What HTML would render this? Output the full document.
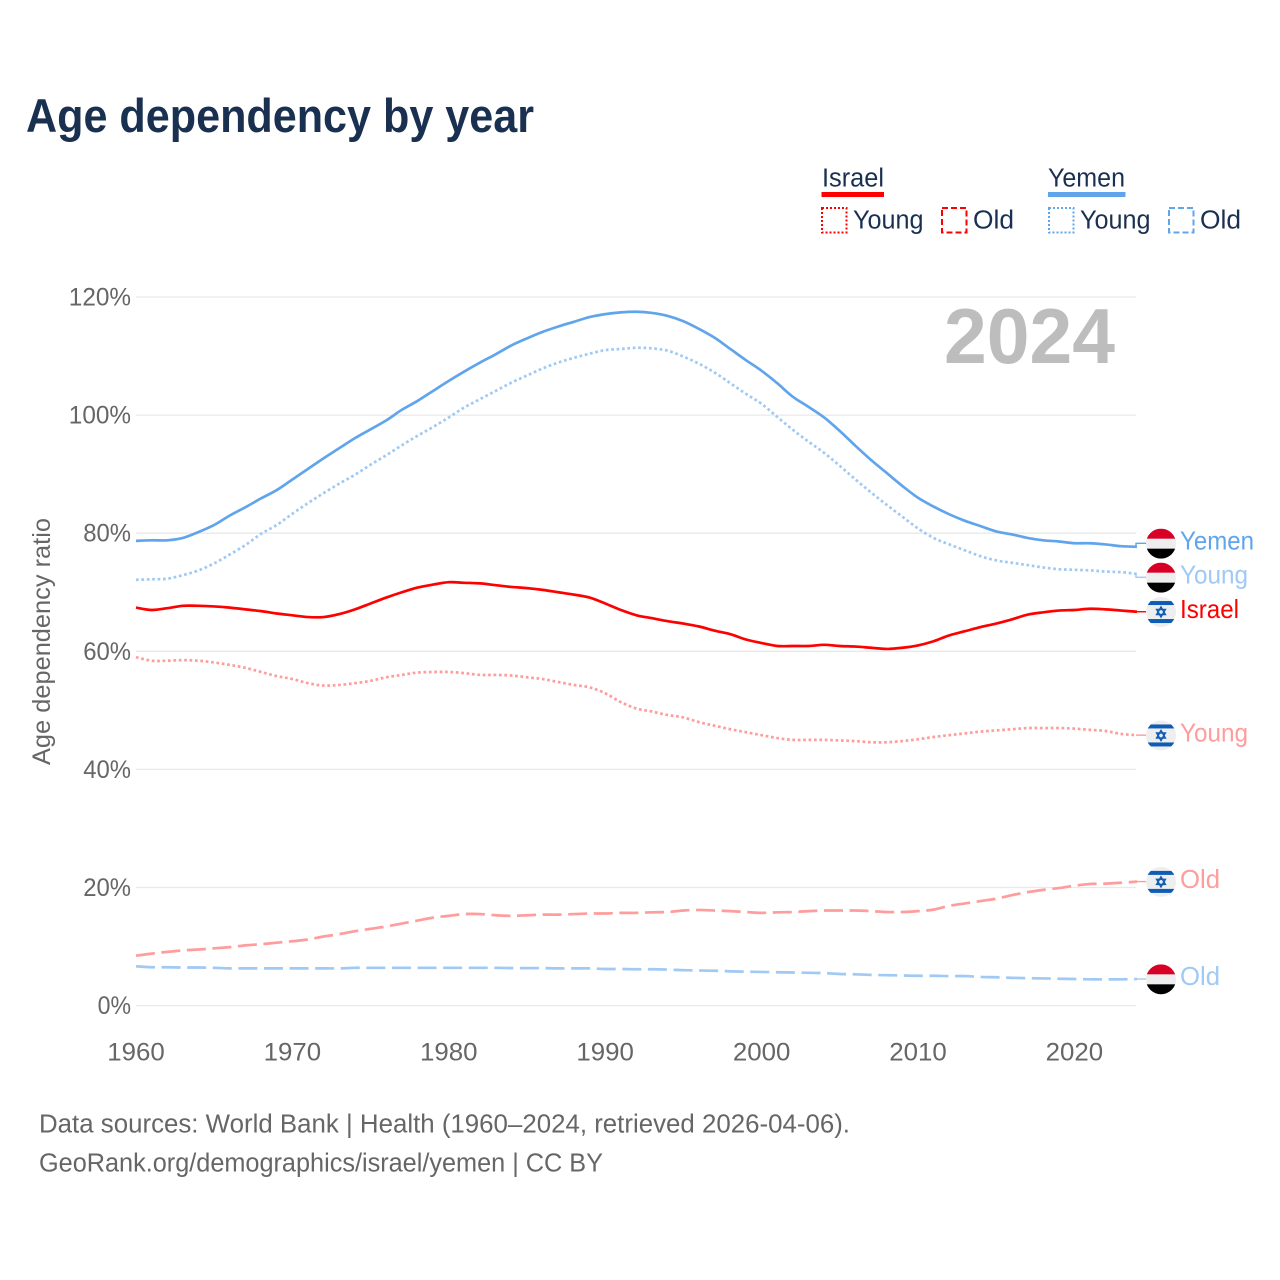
<!DOCTYPE html>
<html lang="en">
<head>
<meta charset="utf-8">
<title>Age dependency by year</title>
<style>
html,body{margin:0;padding:0;background:#fff;}
svg{display:block;font-family:"Liberation Sans",sans-serif;}
</style>
</head>
<body>
<svg id="chart" xmlns="http://www.w3.org/2000/svg" width="1280" height="1280" viewBox="0 0 1280 1280">
  <rect x="0" y="0" width="1280" height="1280" fill="#ffffff"/>
  <text x="26" y="132" font-size="47" font-weight="700" fill="#1a3050" textLength="508" lengthAdjust="spacingAndGlyphs">Age dependency by year</text>

  <g>
    <text x="822" y="186.5" font-size="25.5" fill="#1a3050" textLength="62" lengthAdjust="spacingAndGlyphs">Israel</text>
    <rect x="821.5" y="192" width="62.5" height="5" fill="#ff0000"/>
    <rect x="822" y="208" width="24.5" height="24.5" fill="none" stroke="#ff0000" stroke-width="2" stroke-dasharray="2 2"/>
    <text x="853" y="228.5" font-size="25.5" fill="#1a3050" textLength="70.5" lengthAdjust="spacingAndGlyphs">Young</text>
    <rect x="942" y="208" width="24.5" height="24.5" fill="none" stroke="#ff0000" stroke-width="2" stroke-dasharray="6 3"/>
    <text x="973" y="228.5" font-size="25.5" fill="#1a3050" textLength="41" lengthAdjust="spacingAndGlyphs">Old</text>
    <text x="1048" y="186.5" font-size="25.5" fill="#1a3050" textLength="77" lengthAdjust="spacingAndGlyphs">Yemen</text>
    <rect x="1048" y="192" width="77.5" height="5" fill="#60a5ec"/>
    <rect x="1049" y="208" width="24.5" height="24.5" fill="none" stroke="#60a5ec" stroke-width="2" stroke-dasharray="2 2"/>
    <text x="1080" y="228.5" font-size="25.5" fill="#1a3050" textLength="70.5" lengthAdjust="spacingAndGlyphs">Young</text>
    <rect x="1169" y="208" width="24.5" height="24.5" fill="none" stroke="#60a5ec" stroke-width="2" stroke-dasharray="6 3"/>
    <text x="1200" y="228.5" font-size="25.5" fill="#1a3050" textLength="41" lengthAdjust="spacingAndGlyphs">Old</text>
  </g>

  <g id="grid"></g>
  <g id="yticks"></g>
  <g id="xticks"></g>

  <text transform="translate(50,641.5) rotate(-90)" text-anchor="middle" font-size="25" fill="#666666" textLength="247" lengthAdjust="spacingAndGlyphs">Age dependency ratio</text>
  <text x="944" y="363" font-size="78" font-weight="700" fill="#bdbdbd" textLength="171" lengthAdjust="spacingAndGlyphs">2024</text>

  <g id="lines"></g>
  <g id="ends"></g>

  <text x="39" y="1132.5" font-size="25.5" fill="#666666" textLength="811" lengthAdjust="spacingAndGlyphs">Data sources: World Bank | Health (1960–2024, retrieved 2026-04-06).</text>
  <text x="39" y="1171.5" font-size="25.5" fill="#666666" textLength="564" lengthAdjust="spacingAndGlyphs">GeoRank.org/demographics/israel/yemen | CC BY</text>
</svg>

<script>
const years = [1960,1961,1962,1963,1964,1965,1966,1967,1968,1969,1970,1971,1972,1973,1974,1975,1976,1977,1978,1979,1980,1981,1982,1983,1984,1985,1986,1987,1988,1989,1990,1991,1992,1993,1994,1995,1996,1997,1998,1999,2000,2001,2002,2003,2004,2005,2006,2007,2008,2009,2010,2011,2012,2013,2014,2015,2016,2017,2018,2019,2020,2021,2022,2023,2024];
const yTicks = [0,20,40,60,80,100,120];
const xTicks = [1960,1970,1980,1990,2000,2010,2020];

const yemenTotal = [78.7,78.8,78.8,79.2,80.2,81.4,83.0,84.4,85.9,87.3,
  89.1,90.9,92.7,94.4,96.1,97.6,99.1,100.9,102.4,104.1,
  105.8,107.4,108.9,110.3,111.8,113.0,114.1,115.0,115.8,116.6,
  117.1,117.4,117.5,117.3,116.8,115.9,114.6,113.1,111.2,109.3,
  107.5,105.4,103.1,101.4,99.6,97.3,94.8,92.4,90.2,88.0,
  86.0,84.5,83.2,82.1,81.2,80.3,79.8,79.2,78.8,78.6,
  78.3,78.3,78.1,77.8,77.7];
const yemenYoung = [72.1,72.2,72.3,72.9,73.7,74.9,76.4,78.0,79.9,81.4,
  83.3,85.1,86.8,88.4,89.9,91.6,93.2,94.9,96.5,98.0,
  99.6,101.3,102.7,104.1,105.5,106.7,107.9,108.9,109.7,110.4,
  111.0,111.2,111.4,111.3,110.9,109.9,108.7,107.2,105.4,103.6,
  101.9,99.7,97.5,95.5,93.6,91.4,89.1,86.9,84.8,82.8,
  80.8,79.2,78.1,77.1,76.1,75.4,75.0,74.6,74.2,73.9,
  73.8,73.7,73.5,73.4,73.1];
const yemenOld = [6.65,6.5,6.5,6.45,6.45,6.4,6.3,6.3,6.3,6.3,
  6.3,6.3,6.3,6.3,6.4,6.4,6.4,6.4,6.4,6.4,
  6.4,6.4,6.4,6.4,6.35,6.35,6.35,6.3,6.3,6.3,
  6.2,6.2,6.15,6.15,6.1,6.0,5.95,5.9,5.8,5.75,
  5.7,5.65,5.6,5.55,5.5,5.35,5.3,5.2,5.15,5.1,
  5.05,5.05,5.0,5.0,4.85,4.8,4.7,4.65,4.6,4.55,
  4.5,4.45,4.45,4.45,4.5];
const israelTotal = [67.4,67.0,67.3,67.7,67.7,67.6,67.4,67.1,66.8,66.4,
  66.1,65.8,65.8,66.3,67.1,68.1,69.1,70.0,70.8,71.3,
  71.7,71.6,71.5,71.2,70.9,70.7,70.4,70.0,69.6,69.1,
  68.1,67.0,66.1,65.6,65.1,64.7,64.2,63.5,62.9,62.0,
  61.4,60.9,60.9,60.9,61.1,60.9,60.8,60.6,60.4,60.6,
  61.0,61.7,62.7,63.4,64.1,64.7,65.4,66.2,66.6,66.9,
  67.0,67.2,67.1,66.9,66.7];
const israelYoung = [59.0,58.4,58.4,58.5,58.4,58.1,57.7,57.2,56.5,55.8,
  55.3,54.6,54.2,54.3,54.6,55.0,55.6,56.0,56.4,56.5,
  56.5,56.3,56.0,56.0,55.9,55.6,55.3,54.8,54.3,53.9,
  52.9,51.4,50.3,49.8,49.2,48.8,48.0,47.4,46.8,46.3,
  45.8,45.3,45.0,45.0,45.0,44.9,44.8,44.6,44.6,44.8,
  45.1,45.5,45.8,46.1,46.4,46.6,46.8,47.0,47.0,47.0,
  46.9,46.7,46.5,46.0,45.8];
const israelOld = [8.45,8.8,9.1,9.35,9.5,9.7,9.9,10.2,10.4,10.65,
  10.9,11.2,11.7,12.1,12.6,13.0,13.4,13.9,14.4,14.9,
  15.2,15.5,15.5,15.3,15.2,15.3,15.4,15.4,15.5,15.6,
  15.6,15.7,15.7,15.8,15.85,16.1,16.2,16.1,16.0,15.85,
  15.7,15.8,15.85,16.0,16.1,16.1,16.1,16.0,15.85,15.85,
  16.0,16.25,16.9,17.3,17.7,18.1,18.7,19.2,19.6,19.9,
  20.3,20.6,20.65,20.8,21.0];

const NS = 'http://www.w3.org/2000/svg';
function make(tag, attrs, parent) {
  const el = document.createElementNS(NS, tag);
  for (const k in attrs) el.setAttribute(k, attrs[k]);
  parent.appendChild(el);
  return el;
}
function xScale(year) { return 136 + (year - years[0]) * 15.64; }
function yScale(v) { return 1005.6 - v * 5.905; }

const gridG = document.getElementById('grid');
const yTickG = document.getElementById('yticks');
const xTickG = document.getElementById('xticks');
const linesG = document.getElementById('lines');
const endsG = document.getElementById('ends');

yTicks.forEach(function (t) {
  const line = make('line', {x1: 136, x2: 1136, y1: yScale(t), y2: yScale(t), stroke: '#e9e9e9', 'stroke-width': 1.3}, gridG);
  
  
  const label = make('text', {x: 131, y: yScale(t) + 8.5, 'text-anchor': 'end', 'font-size': 25, fill: '#666666', textLength: String(t).length * 14.4 + 19, lengthAdjust: 'spacingAndGlyphs'}, yTickG);
  label.textContent = t + '%';
  
  
});

xTicks.forEach(function (t) {
  const label = make('text', {x: xScale(t), y: 1060.5, 'text-anchor': 'middle', 'font-size': 25, fill: '#666666', textLength: 57.5, lengthAdjust: 'spacingAndGlyphs'}, xTickG);
  label.textContent = String(t);
  
  
});

const seriesList = [
  {key: 'israel-old', values: israelOld, color: '#ff9c9c', dash: '19 6.6', label: 'Old', flag: 'israel', width: 40},
  {key: 'yemen-old', values: yemenOld, color: '#a0c9f4', dash: '19 6.6', label: 'Old', flag: 'yemen', width: 40},
  {key: 'israel-young', values: israelYoung, color: '#ff9c9c', dash: '2.7 2.7', label: 'Young', flag: 'israel', width: 68},
  {key: 'yemen-young', values: yemenYoung, color: '#a0c9f4', dash: '2.7 2.7', label: 'Young', flag: 'yemen', width: 68},
  {key: 'israel-total', values: israelTotal, color: '#ff0000', dash: '', label: 'Israel', flag: 'israel', width: 59},
  {key: 'yemen-total', values: yemenTotal, color: '#60a5ec', dash: '', label: 'Yemen', flag: 'yemen', width: 74}
];

/* Smooth curve through the scaled data points (Catmull-Rom to Bezier) */
function curvePath(values) {
  const pts = values.map(function (v, i) { return [xScale(years[i]), yScale(v)]; });
  let d = 'M' + pts[0][0].toFixed(2) + ' ' + pts[0][1].toFixed(2);
  for (let i = 0; i < pts.length - 1; i++) {
    const p0 = pts[Math.max(i - 1, 0)];
    const p1 = pts[i];
    const p2 = pts[i + 1];
    const p3 = pts[Math.min(i + 2, pts.length - 1)];
    const c1x = p1[0] + (p2[0] - p0[0]) / 6;
    const c1y = p1[1] + (p2[1] - p0[1]) / 6;
    const c2x = p2[0] - (p3[0] - p1[0]) / 6;
    const c2y = p2[1] - (p3[1] - p1[1]) / 6;
    d += ' C' + c1x.toFixed(2) + ' ' + c1y.toFixed(2) + ' ' + c2x.toFixed(2) + ' ' + c2y.toFixed(2) + ' ' + p2[0].toFixed(2) + ' ' + p2[1].toFixed(2);
  }
  return d;
}

seriesList.forEach(function (s) {
  const attrs = {d: curvePath(s.values), fill: 'none', stroke: s.color, 'stroke-width': 2.7, 'stroke-linejoin': 'round'};
  if (s.dash) attrs['stroke-dasharray'] = s.dash;
  const path = make('path', attrs, linesG);
  
  
});

/* End-label layout: push flags apart so they never overlap */
const minGap = 34;
const placed = seriesList.map(function (s) {
  const endY = yScale(s.values[s.values.length - 1]);
  return {s: s, endY: endY, y: endY};
}).sort(function (a, b) { return a.endY - b.endY; });
let clusters = placed.map(function (p) { return {items: [p], sum: p.endY}; });
let merged = true;
function clusterTop(c) { return c.sum / c.items.length - (c.items.length - 1) * minGap / 2; }
while (merged) {
  merged = false;
  for (let i = 0; i < clusters.length - 1; i++) {
    const a = clusters[i], b = clusters[i + 1];
    if (clusterTop(a) + a.items.length * minGap > clusterTop(b)) {
      a.items = a.items.concat(b.items);
      a.sum += b.sum;
      clusters.splice(i + 1, 1);
      merged = true;
      break;
    }
  }
}
clusters.forEach(function (c) {
  const top = clusterTop(c);
  c.items.forEach(function (p, i) { p.y = top + i * minGap; });
});

function drawFlag(kind, cy, key) {
  const g = make('g', {}, endsG);
  
  
  const clip = make('clipPath', {id: 'clip-' + key}, g);
  make('circle', {cx: 1161, cy: cy, r: 15}, clip);
  const inner = make('g', {'clip-path': 'url(#clip-' + key + ')'}, g);
  make('rect', {x: 1146, y: cy - 15, width: 30, height: 30, fill: '#eeeeee'}, inner);
  if (kind === 'yemen') {
    make('rect', {x: 1146, y: cy - 15, width: 30, height: 10, fill: '#d80027'}, inner);
    make('rect', {x: 1146, y: cy + 5, width: 30, height: 10, fill: '#000000'}, inner);
  } else {
    make('rect', {x: 1146, y: cy - 11, width: 30, height: 4, fill: '#0f5cb5'}, inner);
    make('rect', {x: 1146, y: cy + 7, width: 30, height: 4, fill: '#0f5cb5'}, inner);
    const c = 1161;
    const r = 5;
    const tri1 = [c, cy - r, c + r * 0.866, cy + r / 2, c - r * 0.866, cy + r / 2].join(' ');
    const tri2 = [c, cy + r, c + r * 0.866, cy - r / 2, c - r * 0.866, cy - r / 2].join(' ');
    make('polygon', {points: tri1, fill: 'none', stroke: '#0f5cb5', 'stroke-width': 1.5}, inner);
    make('polygon', {points: tri2, fill: 'none', stroke: '#0f5cb5', 'stroke-width': 1.5}, inner);
  }
}

placed.forEach(function (p) {
  const s = p.s;
  const conn = make('path', {
    d: 'M1136 ' + p.endY.toFixed(2) + ' V' + p.y.toFixed(2) + ' H1146',
    fill: 'none', stroke: s.color, 'stroke-width': 1.4
  }, endsG);
  
  
  drawFlag(s.flag, p.y + 0.3, s.key);
  const label = make('text', {
    x: 1180, y: p.y + 6.2, 'font-size': 26, fill: s.color,
    textLength: s.width, lengthAdjust: 'spacingAndGlyphs'
  }, endsG);
  label.textContent = s.label;
  
  
});
</script>
</body>
</html>
